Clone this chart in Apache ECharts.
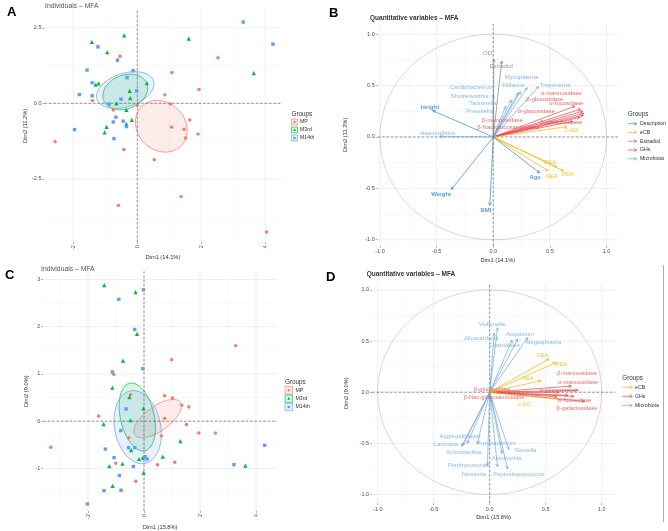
<!DOCTYPE html>
<html><head><meta charset="utf-8">
<script src="https://cdn.jsdelivr.net/npm/echarts@6/dist/echarts.min.js"></script>
<style>html,body{margin:0;padding:0;background:#fff}#c{width:668px;height:531px}</style>
</head><body><div id="c"></div>
<script>
// ---------------- DATA ----------------
const groups = ['MP', 'M3rd', 'M14th'];
// Panel A : individuals (Dim1 14.1%, Dim2 11.2%)
const A_MP = [[-0.54,1.56],[2.52,1.51],[1.08,1.02],[1.93,0.46],[0.86,0.28],[1.03,-0.02],[1.64,-0.55],[1.07,-0.79],[1.46,-0.86],[1.51,-1.15],[1.90,-1.02],[-1.40,0.09],[-0.75,-0.22],[-2.57,-1.27],[-0.42,-1.53],[0.53,-1.87],[1.37,-3.09],[-0.59,-3.38],[4.04,-4.26],[0.0,-0.07]];
const A_M3rd = [[-0.41,2.25],[-1.42,2.03],[1.61,2.14],[-0.94,1.69],[3.64,1.00],[0.30,0.67],[-1.21,0.66],[-1.30,0.62],[-0.24,0.41],[-0.22,0.17],[-0.65,0.00],[-0.34,-0.22],[-0.17,-0.55],[-0.34,-0.68],[-0.96,-0.78],[-1.02,-0.96]];
const A_M14th = [[3.31,2.69],[4.24,1.96],[-1.23,1.87],[-0.62,1.43],[-1.57,1.10],[-0.13,1.08],[-0.32,0.85],[-1.41,0.68],[-0.02,0.41],[-1.81,0.29],[-1.41,0.25],[-0.51,0.14],[-0.88,-0.03],[-0.67,-0.46],[-0.75,-0.62],[-0.44,-0.59],[-0.34,-0.77],[-1.96,-0.87],[-0.73,-1.17]];
// confidence ellipses: [group, cx, cy, semi-axis a, semi-axis b, angle(deg)]
const A_ellipses = [['MP',0.75,-0.76,0.90,0.76,-55],['M3rd',-0.377,0.374,0.73,0.553,26],['M14th',-0.377,0.44,0.935,0.55,20]];
const A_xTicks = [-2,0,2,4], A_xMinor = [-1,1,3];
const A_yTicks = [-2.5,0,2.5], A_yMinor = [-3.75,-1.25,1.25];

// Panel C : individuals (Dim1 15.8%, Dim2 9.0%)
const C_MP = [[3.27,1.60],[0.99,1.30],[-1.08,0.99],[0.74,0.54],[1.02,0.49],[-0.48,0.56],[1.35,0.34],[1.60,0.30],[-1.62,0.11],[0.74,0.06],[1.52,-0.07],[1.96,-0.25],[2.55,-0.25],[0.62,-0.31],[-3.33,-0.55],[-0.54,-0.35],[0.48,-0.92],[1.10,-0.87],[-1.01,-0.89],[-0.29,-1.27]];
const C_M3rd = [[-1.42,2.88],[-0.30,2.73],[-0.25,1.85],[-0.75,1.28],[-1.13,0.71],[-0.52,0.51],[-0.02,0.27],[-0.48,0.02],[-1.44,-0.06],[1.30,-0.42],[-0.46,-0.61],[0.67,-0.75],[-0.18,-0.80],[-0.04,-0.77],[-0.77,-0.90],[-1.24,-0.95],[-0.01,-1.09],[-1.12,-1.37],[3.62,-0.94]];
const C_M14th = [[-0.02,2.78],[-0.90,2.58],[-0.33,1.94],[-0.04,1.11],[-1.13,1.04],[-0.64,0.26],[-0.83,-0.20],[-0.33,-0.56],[-0.55,-0.56],[-1.38,-0.59],[-1.07,-0.77],[0.04,-0.75],[0.11,-0.80],[-0.38,-0.96],[-0.88,-1.15],[-0.82,-1.46],[-1.43,-1.47],[-2.02,-1.75],[3.21,-0.92],[4.31,-0.51]];
const C_ellipses = [['MP',0.49,0.056,0.896,0.29,19.5],['M3rd',-0.24,0.09,0.79,0.56,-54],['M14th',-0.226,-0.127,0.889,0.724,-32]];
const C_xTicks = [-2,0,2,4], C_xMinor = [-3,-1,1,3];
const C_yTicks = [-1,0,1,2,3], C_yMinor = [-1.5,-0.5,0.5,1.5,2.5];

// Panels B, D : variable arrows [name, tipX, tipY, labelX, labelY]
const B_Description = [['Height',-0.535,0.256,-0.56,0.292],['Weight',-0.37,-0.51,-0.46,-0.555],['BMI',-0.03,-0.665,-0.065,-0.71],['Age',0.41,-0.35,0.37,-0.39]];
const B_eCB = [['OEA',0.56,-0.29,0.50,-0.25],['AEA',0.485,-0.33,0.515,-0.38],['PEA',0.62,-0.33,0.66,-0.36],['2-AG',0.65,0.10,0.69,0.066]];
const B_Estradiol = [['OD',0.005,0.755,-0.05,0.81],['Estradiol',0.075,0.74,0.07,0.69]];
const B_GHs = [['α-mannosidase',0.77,0.27,0.60,0.42],['β-glucosidase',0.72,0.30,0.455,0.37],['α-fucosidase',0.79,0.25,0.645,0.325],['α-glucosidase',0.80,0.23,0.38,0.245],['β-mannosidase',0.795,0.21,0.08,0.165],['β-Nac-glucosaminidase',0.765,0.19,0.135,0.09],['β-galactosidase',0.70,0.15,0.60,0.14]];
const B_Microbiota = [['Mycoplasma',0.30,0.48,0.25,0.58],['Filifactor',0.24,0.44,0.18,0.50],['Treponema',0.40,0.49,0.545,0.50],['Cardiobacterium',0.22,0.43,-0.19,0.48],['Shuttleworthia',0.0,0.41,-0.21,0.40],['Tannerella',0.16,0.36,-0.09,0.33],['Prevotella',0.11,0.30,-0.12,0.245],['Haemophilus',-0.47,0.003,-0.49,0.036]];
const D_eCB = [['OEA',0.53,0.325,0.47,0.36],['PEA',0.59,0.29,0.64,0.27],['AEA',0.46,0.113,0.34,0.137],['2-AG',0.63,-0.07,0.31,-0.117]];
const D_GHs = [['β-mannosidase',0.73,0.06,0.78,0.18],['α-mannosidase',0.79,0.02,0.79,0.10],['α-glucosidase',0.70,-0.03,0.61,0.016],['α-fucosidase',0.75,-0.04,0.76,-0.075],['β-galactosidase',0.85,-0.09,0.78,-0.156],['β-glucosidase',0.62,0.0,0.02,0.025],['β-Nac-glucosaminidase',0.60,-0.045,0.04,-0.053]];
const D_Microbiota = [['Veillonella',0.07,0.63,0.02,0.667],['Alloscardovia',0.04,0.575,-0.075,0.53],['Atopobium',0.20,0.51,0.27,0.567],['Clostridiales',0.25,0.52,0.13,0.455],['Megasphaera',0.34,0.535,0.48,0.49],['Aggregatibacter',-0.20,-0.50,-0.265,-0.435],['Lautropia',-0.25,-0.53,-0.39,-0.51],['Actinobacillus',-0.24,-0.52,-0.23,-0.585],['Fusobacterium',-0.11,-0.505,0.06,-0.505],['Gemella',0.17,-0.557,0.32,-0.57],['Abiotrophia',0.11,-0.60,0.15,-0.645],['Porphyromonas',0.07,-0.73,-0.19,-0.72],['Neisseria',-0.02,-0.72,-0.14,-0.80],['Peptostreptococcus',0.16,-0.75,0.26,-0.80]];
const BD_ticks = [-1,-0.5,0,0.5,1], BD_minor = [-0.75,-0.25,0.25,0.75];
const unitCircle = [[0,0,1]];

// ---------------- STYLE / LAYOUT ----------------
const FONT = '"Liberation Sans", Arial, sans-serif';
const COL = {MP:'#F8766D', M3rd:'#00BA38', M14th:'#619CFF'};
const SYM = {MP:'circle', M3rd:'triangle', M14th:'rect'};
const VCOL = {Description:'#2F87D3', eCB:'#F2B400', Estradiol:'#7F7F7F', GHs:'#E3434A', Microbiota:'#6BA6DE'};
const grids = [
  {left:44.5, top:9.7, width:236.8, height:232.5},
  {left:377.7, top:23.9, width:240.2, height:222.0},
  {left:43.2, top:271.4, width:233.8, height:240.3},
  {left:372.1, top:283.2, width:243.0, height:220.0}
];
const XR = [[-2.9,4.5],[-1.02,1.1],[-3.6,4.75],[-1.05,1.12]];
const YR = [[-4.6,3.1],[-1.06,1.1],[-1.9,3.17],[-1.085,1.066]];

function hexA(h, a){const n=parseInt(h.slice(1),16);return `rgba(${n>>16},${(n>>8)&255},${n&255},${a})`;}

function xAxis(i, ticks, fmt, rot, name, gap){
  return {type:'value', gridIndex:i, min:XR[i][0], max:XR[i][1], position:'bottom',
    axisLine:{show:false,onZero:false}, splitLine:{show:false},
    axisTick:{show:true, customValues:ticks, length:2, lineStyle:{color:'#666',width:0.5}},
    axisLabel:{customValues:ticks, formatter:fmt, rotate:rot, fontSize:5.5, color:'#4d4d4d', margin:3, fontFamily:FONT},
    name:name, nameLocation:'middle', nameGap:gap, nameTextStyle:{fontSize:5.7,color:'#333',fontFamily:FONT}};
}
function yAxis(i, ticks, fmt, name, gap){
  return {type:'value', gridIndex:i, min:YR[i][0], max:YR[i][1], position:'left',
    axisLine:{show:false,onZero:false}, splitLine:{show:false},
    axisTick:{show:true, customValues:ticks, length:2, lineStyle:{color:'#666',width:0.5}},
    axisLabel:{customValues:ticks, formatter:fmt, fontSize:5.5, color:'#4d4d4d', margin:3, fontFamily:FONT},
    name:name, nameLocation:'middle', nameGap:gap, nameRotate:90, nameTextStyle:{fontSize:5.7,color:'#333',fontFamily:FONT}};
}
const f1 = v => (v<0?'-':'') + Math.abs(v).toFixed(1);
const f0 = v => (v<0?'-':'') + Math.abs(v).toFixed(0);

function gridSeries(i, xMaj, xMin, yMaj, yMin){
  const d = [];
  xMin.forEach(v=>d.push([0,v,0])); yMin.forEach(v=>d.push([1,v,0]));
  xMaj.forEach(v=>d.push([0,v,1])); yMaj.forEach(v=>d.push([1,v,1]));
  return {type:'custom', xAxisIndex:i, yAxisIndex:i, silent:true, z:1, data:d,
    renderItem:(p,api)=>{
      const t=api.value(0), v=api.value(1), m=api.value(2);
      let a,b;
      if(t===0){a=api.coord([v,YR[i][0]]);b=api.coord([v,YR[i][1]]);}
      else {a=api.coord([XR[i][0],v]);b=api.coord([XR[i][1],v]);}
      return {type:'line', shape:{x1:a[0],y1:a[1],x2:b[0],y2:b[1]},
        style:{stroke: m? '#e4e4e4':'#f0f0f0', lineWidth: m?0.6:0.4}};
    }};
}
function zeroSeries(i){
  return {type:'custom', xAxisIndex:i, yAxisIndex:i, silent:true, z:6, data:[[0,0],[1,0]],
    renderItem:(p,api)=>{
      const t=api.value(0), v=api.value(1);
      let a,b;
      if(t===0){a=api.coord([v,YR[i][0]]);b=api.coord([v,YR[i][1]]);}
      else {a=api.coord([XR[i][0],v]);b=api.coord([XR[i][1],v]);}
      return {type:'line', shape:{x1:a[0],y1:a[1],x2:b[0],y2:b[1]},
        style:{stroke:'#555', lineWidth:0.6, lineDash:[2.6,1.8]}};
    }};
}
function ellipseSeries(i, ells){
  return {type:'custom', xAxisIndex:i, yAxisIndex:i, silent:true, z:3,
    data: ells.map(e=>({name:e[0], value:[e[1],e[2],e[3],e[4],e[5]]})),
    renderItem:(p,api)=>{
      const cx=api.value(0), cy=api.value(1), a=api.value(2), b=api.value(3), th=api.value(4)*Math.PI/180;
      const g = ells[p.dataIndex][0];
      const pts=[];
      for(let k=0;k<=90;k++){
        const t=k/90*2*Math.PI;
        const x=a*Math.cos(t), y=b*Math.sin(t);
        pts.push(api.coord([cx + x*Math.cos(th) - y*Math.sin(th), cy + x*Math.sin(th) + y*Math.cos(th)]));
      }
      return {type:'polygon', shape:{points:pts}, style:{fill:hexA(COL[g],0.14), stroke:COL[g], lineWidth:0.7}};
    }};
}
function pointSeries(i, g, pts){
  return {type:'scatter', name:g, xAxisIndex:i, yAxisIndex:i, z:8, silent:true,
    symbol:SYM[g], symbolSize: g==='M3rd'?4.2:3.4, data:pts,
    itemStyle:{color:COL[g], opacity:1}};
}
function circleSeries(i){
  return {type:'custom', xAxisIndex:i, yAxisIndex:i, silent:true, z:2, data:unitCircle,
    renderItem:(p,api)=>{
      const cx=api.value(0), cy=api.value(1), r=api.value(2); const pts=[];
      for(let k=0;k<=160;k++){const t=k/160*2*Math.PI; pts.push(api.coord([cx+r*Math.cos(t), cy+r*Math.sin(t)]));}
      return {type:'polyline', shape:{points:pts}, style:{stroke:'#bdbdbd', fill:null, lineWidth:0.6}};
    }};
}
function arrowSeries(i, arr, color){
  return {type:'custom', xAxisIndex:i, yAxisIndex:i, silent:true, z:7,
    data: arr.map(r=>({name:r[0], value:[r[1],r[2]]})),
    renderItem:(p,api)=>{
      const p0=api.coord([0,0]), p1=api.coord([api.value(0),api.value(1)]);
      const ang=Math.atan2(p1[1]-p0[1], p1[0]-p0[0]), L=3.2, w=0.45;
      const h1=[p1[0]-L*Math.cos(ang-w), p1[1]-L*Math.sin(ang-w)];
      const h2=[p1[0]-L*Math.cos(ang+w), p1[1]-L*Math.sin(ang+w)];
      return {type:'group', children:[
        {type:'line', shape:{x1:p0[0],y1:p0[1],x2:p1[0],y2:p1[1]}, style:{stroke:color,lineWidth:0.7}},
        {type:'polyline', shape:{points:[h1,p1,h2]}, style:{stroke:color,fill:null,lineWidth:0.7}}
      ]};
    }};
}
function labelSeries(i, arr, color, size, bold){
  return {type:'scatter', xAxisIndex:i, yAxisIndex:i, silent:true, z:9, symbolSize:1,
    itemStyle:{color:'transparent'},
    data: arr.map(r=>({name:r[0], value:[r[3],r[4]]})),
    label:{show:true, position:'inside', formatter:'{b}', color:color, fontSize:size, fontFamily:FONT, fontWeight: bold?'bold':'normal'}};
}

const series = [];
series.push(gridSeries(0, A_xTicks, A_xMinor, A_yTicks, A_yMinor));
series.push(gridSeries(1, BD_ticks, BD_minor, BD_ticks, BD_minor));
series.push(gridSeries(2, C_xTicks, C_xMinor, C_yTicks, C_yMinor));
series.push(gridSeries(3, BD_ticks, BD_minor, BD_ticks, BD_minor));
[0,1,2,3].forEach(i=>series.push(zeroSeries(i)));
series.push(ellipseSeries(0, A_ellipses));
series.push(ellipseSeries(2, C_ellipses));
series.push(pointSeries(0,'MP',A_MP), pointSeries(0,'M3rd',A_M3rd), pointSeries(0,'M14th',A_M14th));
series.push(pointSeries(2,'MP',C_MP), pointSeries(2,'M3rd',C_M3rd), pointSeries(2,'M14th',C_M14th));
series.push(circleSeries(1));
series.push(arrowSeries(1,B_Microbiota,VCOL.Microbiota), arrowSeries(1,B_Estradiol,VCOL.Estradiol), arrowSeries(1,B_GHs,VCOL.GHs), arrowSeries(1,B_eCB,VCOL.eCB), arrowSeries(1,B_Description,VCOL.Description));
series.push(labelSeries(1,B_Microbiota,VCOL.Microbiota,6,false), labelSeries(1,B_Estradiol,VCOL.Estradiol,6,false), labelSeries(1,B_GHs,VCOL.GHs,6,false), labelSeries(1,B_eCB,VCOL.eCB,6,false), labelSeries(1,B_Description,VCOL.Description,6,true));
series.push(circleSeries(3));
series.push(arrowSeries(3,D_Microbiota,VCOL.Microbiota), arrowSeries(3,D_GHs,VCOL.GHs), arrowSeries(3,D_eCB,VCOL.eCB));
series.push(labelSeries(3,D_Microbiota,VCOL.Microbiota,5.8,false), labelSeries(3,D_GHs,VCOL.GHs,5.8,false), labelSeries(3,D_eCB,VCOL.eCB,5.8,false));

// ---------------- GRAPHIC (titles, letters, legends) ----------------
const G = [];
function txt(x,y,t,size,color,weight,valign){G.push({type:'text',x:x,y:y,silent:true,style:{text:t,fill:color,font:`${weight||'normal'} ${size}px ${FONT}`,verticalAlign:valign||'middle'}});}
txt(7,12,'A',13,'#000','bold'); txt(329,13,'B',13,'#000','bold');
txt(5,275,'C',13,'#000','bold'); txt(326,277,'D',13,'#000','bold');
txt(45,6,'Individuals – MFA',6.8,'#555');
txt(370,18,'Quantitative variables – MFA',6.5,'#333','bold');
txt(41,269.5,'Individuals – MFA',6.8,'#555');
txt(366.7,274,'Quantitative variables – MFA',6.5,'#333','bold');

function pointLegend(x0, yT, ys, box, tx){
  txt(x0, yT, 'Groups', 6.3, '#333');
  groups.forEach((g,k)=>{
    const cy=ys[k];
    G.push({type:'rect',silent:true,shape:{x:x0,y:cy-box/2,width:box,height:box},style:{fill:hexA(COL[g],0.14),stroke:COL[g],lineWidth:0.6}});
    const cx=x0+box/2;
    if(g==='MP') G.push({type:'circle',silent:true,shape:{cx:cx,cy:cy,r:1.2},style:{fill:COL[g]}});
    else if(g==='M3rd') G.push({type:'polygon',silent:true,shape:{points:[[cx,cy-1.6],[cx-1.5,cy+1.1],[cx+1.5,cy+1.1]]},style:{fill:COL[g]}});
    else G.push({type:'rect',silent:true,shape:{x:cx-1.2,y:cy-1.2,width:2.4,height:2.4},style:{fill:COL[g]}});
    txt(tx, cy, g, 5.2, '#333');
  });
}
pointLegend(291.5, 114.3, [122,130,138], 6, 300);
pointLegend(285, 382.3, [390.3,398.7,407], 7.5, 295.5);

function arrowLegend(x0, x1, yT, ys, names, tx){
  txt(x0, yT, 'Groups', 6.3, '#333');
  names.forEach((n,k)=>{
    const cy=ys[k], c=VCOL[n];
    G.push({type:'line',silent:true,shape:{x1:x0,y1:cy,x2:x1,y2:cy},style:{stroke:c,lineWidth:0.7}});
    G.push({type:'polyline',silent:true,shape:{points:[[x1-2.6,cy-1.5],[x1,cy],[x1-2.6,cy+1.5]]},style:{stroke:c,fill:null,lineWidth:0.7}});
    txt(tx, cy, n, 5.2, '#333');
  });
}
arrowLegend(627.7, 636.7, 114.3, [123.7,132.4,141.2,150,158.8], ['Description','eCB','Estradiol','GHs','Microbiota'], 640);
arrowLegend(622.3, 632.3, 378.3, [387.3,396.3,405.3], ['eCB','GHs','Microbiota'], 635);
G.push({type:'line',silent:true,shape:{x1:663.5,y1:265,x2:663.5,y2:522},style:{stroke:'#999',lineWidth:0.8}});

const option = {
  animation:false, backgroundColor:'#fff',
  textStyle:{fontFamily:FONT},
  grid: grids,
  xAxis: [
    xAxis(0, A_xTicks, f0, 90, 'Dim1 (14.1%)', 10),
    xAxis(1, BD_ticks, f1, 0, 'Dim1 (14.1%)', 12),
    xAxis(2, C_xTicks, f0, 90, 'Dim1 (15.8%)', 13),
    xAxis(3, BD_ticks, f1, 0, 'Dim1 (15.8%)', 11)
  ],
  yAxis: [
    yAxis(0, A_yTicks, f1, 'Dim2 (11.2%)', 16),
    yAxis(1, BD_ticks, f1, 'Dim2 (11.2%)', 29),
    yAxis(2, C_yTicks, f0, 'Dim2 (9.0%)', 14),
    yAxis(3, BD_ticks, f1, 'Dim2 (9.0%)', 23)
  ],
  series: series,
  graphic: G
};
const chart = echarts.init(document.getElementById('c'), null, {renderer:'canvas'});
chart.setOption(option);
</script></body></html>
